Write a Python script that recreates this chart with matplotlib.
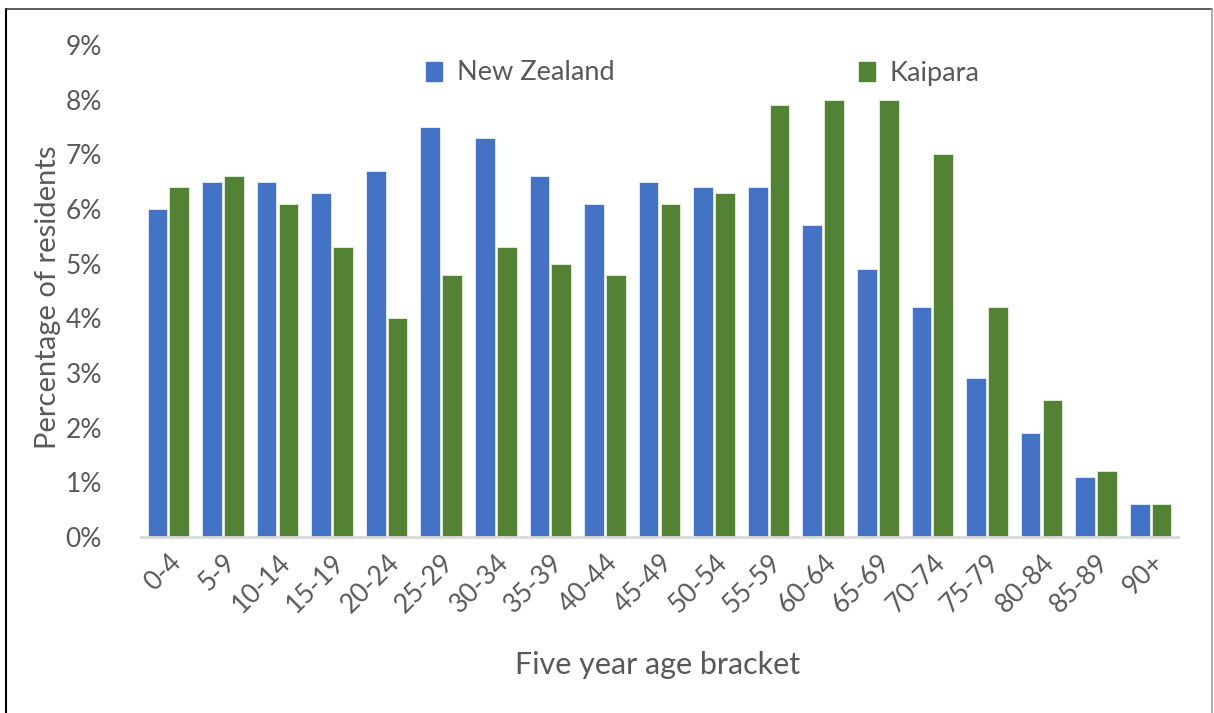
import matplotlib
matplotlib.use("Agg")
import matplotlib.pyplot as plt
import numpy as np
from matplotlib.lines import Line2D
from matplotlib.patches import Patch

categories = ["0-4", "5-9", "10-14", "15-19", "20-24", "25-29", "30-34", "35-39",
              "40-44", "45-49", "50-54", "55-59", "60-64", "65-69", "70-74",
              "75-79", "80-84", "85-89", "90+"]
new_zealand = [6.0, 6.5, 6.5, 6.3, 6.7, 7.5, 7.3, 6.6, 6.1, 6.5, 6.4, 6.4,
               5.7, 4.9, 4.2, 2.9, 1.9, 1.1, 0.6]
kaipara = [6.4, 6.6, 6.1, 5.3, 4.0, 4.8, 5.3, 5.0, 4.8, 6.1, 6.3, 7.9,
           8.0, 8.0, 7.0, 4.2, 2.5, 1.2, 0.6]
y_ticks = [0, 1, 2, 3, 4, 5, 6, 7, 8, 9]

plt.rcParams['font.family'] = ['Lato', 'DejaVu Sans']
txt = '#595959'
blue = '#4472C4'
green = '#548235'

fig = plt.figure(figsize=(12.14, 7.13), dpi=100)
ax = fig.add_axes([141/1214, 1-537/713, (1178-141)/1214, (537-45)/713])

x = np.arange(len(categories))
w = 0.36
ax.bar(x - 0.2, new_zealand, width=w, color=blue, edgecolor='#E8EEF8', linewidth=0.6, label='New Zealand')
ax.bar(x + 0.2, kaipara, width=w, color=green, edgecolor='#E8F0E0', linewidth=0.6, label='Kaipara')

ax.set_xlim(-0.5, len(categories) - 0.5)
ax.set_ylim(0, 9)
ax.set_yticks(y_ticks)
ax.set_yticklabels([f"{v}%" for v in y_ticks], fontsize=19, color=txt)
ax.set_xticks(x)
ax.set_xticklabels(categories, rotation=45, ha='right', rotation_mode='anchor',
                   fontsize=19, color=txt)
ax.tick_params(axis='both', length=0)
ax.tick_params(axis='y', pad=28)
ax.tick_params(axis='x', pad=9)
for s in ['top', 'right', 'left']:
    ax.spines[s].set_visible(False)
ax.spines['bottom'].set_color('#D9D9D9')
ax.spines['bottom'].set_linewidth(2)

fig.text(48/1214, 1-297/713, 'Percentage of residents', fontsize=21, color=txt,
         rotation=90, ha='center', va='center')
fig.text((515+800)/2/1214, 1-665/713, 'Five year age bracket', fontsize=22, color=txt,
         ha='center', va='center')

handles = [Patch(color=blue), Patch(color=green)]
ax.legend(handles, ['New Zealand', 'Kaipara'], ncol=2, frameon=False,
          loc='center left', bbox_to_anchor=(426/1214, 1-73/713), bbox_transform=fig.transFigure,
          fontsize=19.5, labelcolor=txt, handlelength=0.6, handleheight=0.7,
          handletextpad=0.55, columnspacing=9.0, borderpad=0, borderaxespad=0)

fig.add_artist(Line2D([6/1214, 6/1214], [0, 1-9/713], transform=fig.transFigure, color='black', lw=1.5))
fig.add_artist(Line2D([6/1214, 1212/1214], [1-9/713, 1-9/713], transform=fig.transFigure, color='#404040', lw=1.2))
fig.add_artist(Line2D([1212/1214, 1212/1214], [0, 1-9/713], transform=fig.transFigure, color='#A0A0A0', lw=1.2))

fig.savefig('out.png', dpi=100)
